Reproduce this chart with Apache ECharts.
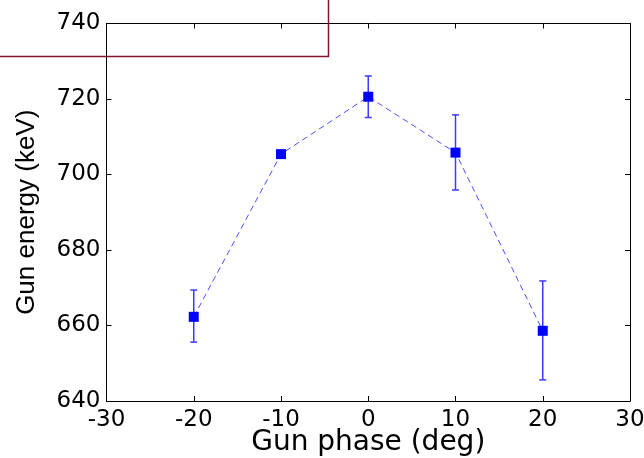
<!DOCTYPE html>
<html>
<head>
<meta charset="utf-8">
<script src="https://cdn.jsdelivr.net/npm/echarts@6/dist/echarts.min.js"></script>
<style>
  html, body { margin: 0; padding: 0; background: #fff; }
  #chart { width: 644px; height: 458px; }
</style>
</head>
<body>
<div id="chart"></div>
<script>
// gun phase scan
var phases = [-20, -10, 0, 10, 20];
var energies = [662.3, 705.4, 720.6, 705.8, 658.6];
var errLow = [655.6, 704.6, 715.1, 695.9, 645.6];
var errHigh = [669.4, 706.2, 726.1, 715.8, 671.8];

var xTicks = [-30, -20, -10, 0, 10, 20, 30];
var yTicks = [640, 660, 680, 700, 720, 740];

var wide = "DejaVu Sans, sans-serif";
var narrow = "Liberation Sans, Arial, sans-serif";

var lineData = phases.map(function (p, i) { return [p, energies[i]]; });
var errData = phases.map(function (p, i) { return [p, errLow[i], errHigh[i]]; });

function boxAxis(pos, isX) {
    return {
        type: "value",
        position: pos,
        min: isX ? xTicks[0] : yTicks[0],
        max: isX ? xTicks[xTicks.length - 1] : yTicks[yTicks.length - 1],
        interval: isX ? 10 : 20,
        axisLine: { show: true, onZero: false, lineStyle: { color: "#000", width: 1 } },
        axisTick: { show: true, inside: true, length: 5, lineStyle: { color: "#000" } },
        axisLabel: { show: false },
        splitLine: { show: false }
    };
}

var chart = echarts.init(document.getElementById("chart"));
chart.setOption({
    animation: false,
    grid: {
        left: 106.5, right: 14, top: 23.5, bottom: 57,
        containLabel: false,
        outerBoundsMode: "none"
    },
    xAxis: [
        {
            type: "value",
            position: "bottom",
            min: -30, max: 30, interval: 10,
            name: "Gun phase (deg)",
            nameLocation: "middle",
            nameGap: 28,
            nameMoveOverlap: false,
            nameTextStyle: { color: "#000", fontSize: 28, fontFamily: wide },
            axisLine: { show: true, onZero: false, lineStyle: { color: "#000", width: 1 } },
            axisTick: { show: true, inside: true, length: 5, lineStyle: { color: "#000" } },
            axisLabel: { color: "#000", fontSize: 23, fontFamily: wide, margin: 8 },
            splitLine: { show: false }
        },
        boxAxis("top", true)
    ],
    yAxis: [
        {
            type: "value",
            position: "left",
            min: 640, max: 740, interval: 20,
            name: "Gun energy (keV)",
            nameLocation: "middle",
            nameGap: 67,
            nameMoveOverlap: false,
            nameTextStyle: { color: "#000", fontSize: 26, fontFamily: narrow },
            axisLine: { show: true, onZero: false, lineStyle: { color: "#000", width: 1 } },
            axisTick: { show: true, inside: true, length: 5, lineStyle: { color: "#000" } },
            axisLabel: { color: "#000", fontSize: 23, fontFamily: wide, margin: 6 },
            splitLine: { show: false }
        },
        boxAxis("right", false)
    ],
    series: [
        {
            type: "custom",
            xAxisIndex: 0,
            yAxisIndex: 0,
            data: errData,
            z: 2,
            renderItem: function (params, api) {
                var x = api.value(0);
                var lo = api.coord([x, api.value(1)]);
                var hi = api.coord([x, api.value(2)]);
                var cap = 3.5;
                var style = { stroke: "#3b3bff", lineWidth: 1.5 };
                return {
                    type: "group",
                    children: [
                        { type: "line", shape: { x1: lo[0], y1: lo[1], x2: hi[0], y2: hi[1] }, style: style },
                        { type: "line", shape: { x1: lo[0] - cap, y1: lo[1], x2: lo[0] + cap, y2: lo[1] }, style: style },
                        { type: "line", shape: { x1: hi[0] - cap, y1: hi[1], x2: hi[0] + cap, y2: hi[1] }, style: style }
                    ]
                };
            }
        },
        {
            type: "line",
            xAxisIndex: 0,
            yAxisIndex: 0,
            data: lineData,
            z: 3,
            symbol: "rect",
            symbolSize: 10,
            itemStyle: { color: "#0000ff" },
            lineStyle: { color: "#4d4dff", width: 1, type: [6, 4] }
        }
    ],
    graphic: [
        {
            type: "polyline",
            shape: { points: [[0, 56.5], [328.5, 56.5], [328.5, 0]] },
            style: { stroke: "#85142a", lineWidth: 1.5, fill: null },
            z: 10
        }
    ]
});
</script>
</body>
</html>
